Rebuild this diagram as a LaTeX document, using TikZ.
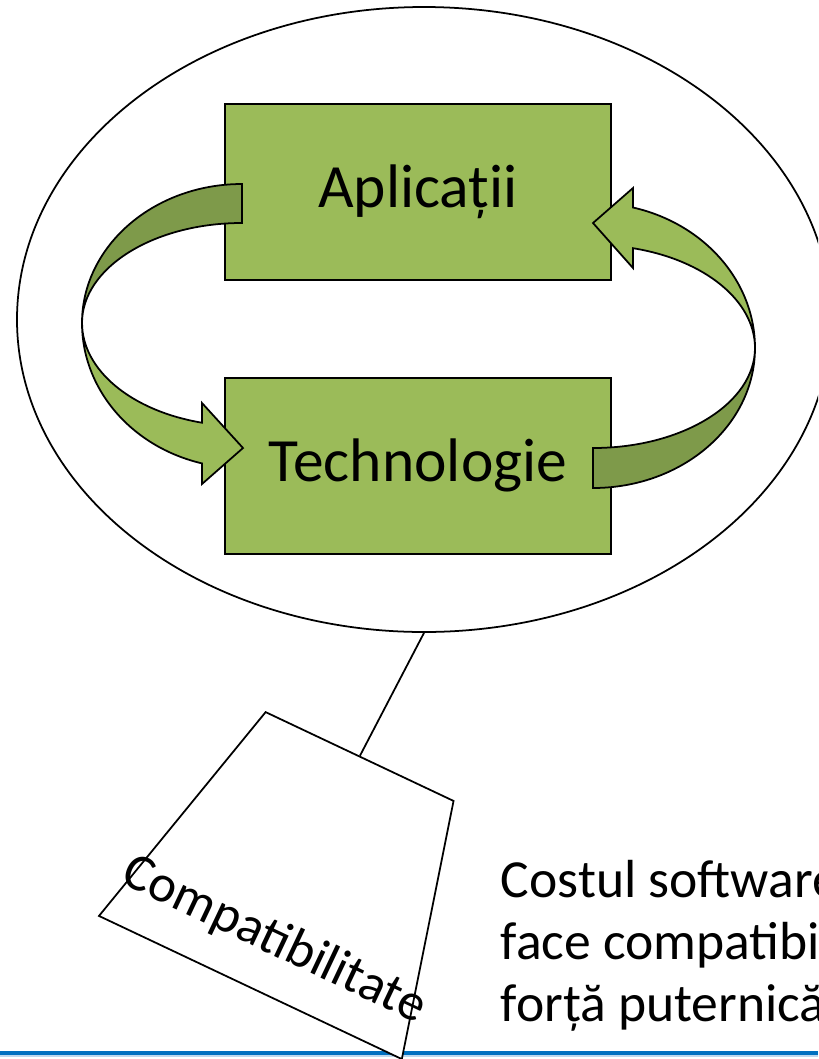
\documentclass[tikz,border=0pt]{standalone}
\usepackage{fontspec}
\setmainfont{Carlito}
\usepackage{tikz}
\usetikzlibrary{positioning,shapes.geometric}
\definecolor{boxgreen}{HTML}{9BBB59}
\definecolor{backgreen}{HTML}{7E9A4A}
\definecolor{rulerblue}{HTML}{0070C0}
\definecolor{rulerlight}{HTML}{BDD7EE}

\begin{document}
\begin{tikzpicture}[line width=1.0pt,box/.style={draw,fill=boxgreen,minimum width=7.72cm,minimum height=3.52cm,font=\fontsize{35}{42}\selectfont},band/.style={draw,fill=boxgreen},backband/.style={draw,fill=backgreen}]
\clip (0,0) rectangle (16.36,-21.18);
\draw[rulerlight,line width=1.5pt] (0,-21.11)--(16.36,-21.11);
\draw[rulerblue,line width=2pt] (0,-21.06)--(16.36,-21.06);
\node[draw,fill=white,ellipse,minimum width=16.28cm,minimum height=12.5cm,inner sep=0pt] (ecosys) at (8.48,-6.39) {};
\node[draw,fill=white,trapezium,trapezium left angle=73,trapezium right angle=73,trapezium stretches,minimum width=6.7cm,minimum height=5.11cm,inner sep=2pt,rotate=-25.3] (compat) at (6.1,-17.44) {};
\draw (ecosys.south) -- (compat.north);
\path (compat.center) ++(-114.3:1.5) node[rotate=-25.3,font=\fontsize{30}{36}\selectfont] (compatlbl) {Compatibilitate};
\node[box] (apl) at (8.36,-3.84) {Aplicații};
\node[box,below=1.92cm of apl] (tech) {Technologie};
\draw[backband] (4.84,-3.68) arc[start angle=90,end angle=180,x radius=3.2,y radius=2.78] arc[start angle=180,end angle=90,x radius=3.2,y radius=2.0] -- cycle;
\draw[band] (1.64,-6.46) arc[start angle=180,end angle=255.5,x radius=3.2,y radius=2.9] -- (4.04,-9.68) -- (4.86,-8.96) -- (4.04,-8.06) -- (4.04,-8.454) arc[start angle=255.5,end angle=180,x radius=3.2,y radius=2.06] -- cycle;
\draw[backband] (11.86,-9.76) arc[start angle=270,end angle=360,x radius=3.24,y radius=2.8] arc[start angle=0,end angle=-90,x radius=3.24,y radius=2.0] -- cycle;
\draw[band] (15.1,-6.96) arc[start angle=0,end angle=75.7,x radius=3.24,y radius=2.9] -- (12.66,-3.76) -- (11.86,-4.46) -- (12.66,-5.36) -- (12.66,-4.964) arc[start angle=75.7,end angle=0,x radius=3.24,y radius=2.06] -- cycle;
\node[anchor=base west,align=left,inner sep=0pt,font=\fontsize{30.5}{30.7}\selectfont] (cost) at (10,-20.42) {Costul software\\[4.5pt]face compatibilitatea\\[4.5pt]forță puternică};
\end{tikzpicture}
\end{document}
